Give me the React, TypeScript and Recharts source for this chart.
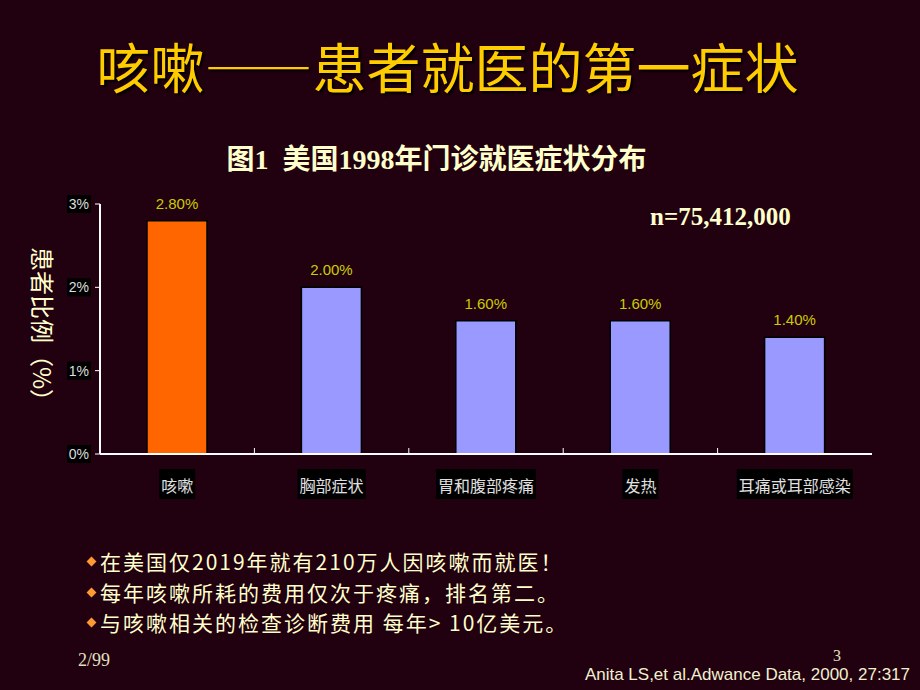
import { BarChart, Bar, XAxis, YAxis, Cell, LabelList } from 'recharts';

const categories = ['咳嗽', '胸部症状', '胃和腹部疼痛', '发热', '耳痛或耳部感染'];
const values = [2.8, 2.0, 1.6, 1.6, 1.4];
const barColors = ['#FF6600', '#9999FF', '#9999FF', '#9999FF', '#9999FF'];
const yTicks = [0, 1, 2, 3];
const bullets = [
  '在美国仅2019年就有210万人因咳嗽而就医！',
  '每年咳嗽所耗的费用仅次于疼痛，排名第二。',
  '与咳嗽相关的检查诊断费用 每年> 10亿美元。',
];

const W = 920;
const H = 690;
const Y_AXIS_W = 40;
const margin = { top: 204, right: 48, left: 100 - Y_AXIS_W, bottom: 186 };
const BG = '#21000f';
const CJK = '"Noto Sans CJK SC", "Noto Sans", sans-serif';

const data = categories.map((name, i) => ({ name, value: values[i], color: barColors[i] }));

// half of one category band, used for the boundary tick marks
const halfBand = (W - 100 - margin.right) / categories.length / 2;

const YTick = (props: any) => {
  const { x, y, payload } = props;
  const label = `${payload.value}%`;
  return (
    <g>
      <rect x={x - 22} y={y - 9} width={24} height={18} fill="#000" />
      <text x={x} y={y} textAnchor="end" dominantBaseline="central" fill="#dddddd"
        fontSize={14} fontFamily="Liberation Sans, Arial, sans-serif">
        {label}
      </text>
    </g>
  );
};

const XTick = (props: any) => {
  const { x, y, payload, index } = props;
  const text = String(payload.value);
  const w = text.length * 16 + 4;
  return (
    <g>
      {index < categories.length - 1 && (
        <line x1={x + halfBand} x2={x + halfBand} y1={y} y2={y - 6} stroke="#fff" strokeWidth={1} />
      )}
      <rect x={x - w / 2} y={y + 15} width={w} height={30} fill="#000" />
      <text x={x} y={y + 31} textAnchor="middle" dominantBaseline="central" fill="#e0e0e0"
        fontSize={16} fontFamily={CJK}>
        {text}
      </text>
    </g>
  );
};

export default function App() {
  return (
    <div style={{ position: 'relative', width: W, height: H, background: BG, overflow: 'hidden' }}>
      <style>{'body{margin:0}'}</style>

      <div lang="zh-CN" style={{
        position: 'absolute', left: 0, width: 895, top: 39, textAlign: 'center',
        fontSize: 54, lineHeight: '54px', color: '#FFCC00', fontFamily: CJK,
        textShadow: '2px 2px 2px #000', whiteSpace: 'nowrap',
      }}>
        咳嗽——患者就医的第一症状
      </div>

      <div style={{
        position: 'absolute', left: 0, width: 873, top: 145, textAlign: 'center',
        fontSize: 28, lineHeight: '30px', color: '#FFFFCC', fontWeight: 'bold',
        fontFamily: '"Liberation Serif", "Noto Sans CJK SC", serif', whiteSpace: 'pre',
      }}>
        {'图1  美国1998年门诊就医症状分布'}
      </div>

      <div style={{
        position: 'absolute', left: 650, top: 204, fontSize: 25, lineHeight: '26px',
        color: '#FFFFCC', fontWeight: 'bold', fontFamily: '"Liberation Serif", serif',
      }}>
        n=75,412,000
      </div>

      <div style={{
        position: 'absolute', left: 43, top: 330, transform: 'translate(-50%, -50%) rotate(90deg)',
        fontSize: 24, lineHeight: '24px', color: '#FFFFCC', fontFamily: CJK, whiteSpace: 'nowrap',
      }}>
        患者比例（%）
      </div>

      <div style={{ position: 'absolute', left: 0, top: 0 }}>
        <BarChart width={W} height={H} data={data} margin={margin}>
          <YAxis
            width={Y_AXIS_W}
            domain={[0, 3]}
            ticks={yTicks}
            axisLine={{ stroke: '#fff', strokeWidth: 2 }}
            tickLine={{ stroke: '#fff', strokeWidth: 1 }}
            tickSize={5}
            tickMargin={6}
            tick={<YTick />}
          />
          <XAxis
            dataKey="name"
            height={50}
            axisLine={{ stroke: '#fff', strokeWidth: 2 }}
            tickLine={false}
            tickSize={0}
            tickMargin={0}
            interval={0}
            tick={<XTick />}
          />
          <Bar dataKey="value" barSize={60} stroke="#000" strokeWidth={1.5} isAnimationActive={false}>
            {data.map((d, i) => (
              <Cell key={i} fill={d.color} />
            ))}
            <LabelList
              dataKey="value"
              position="top"
              offset={12}
              fill="#CCCC00"
              fontSize={15}
              fontFamily="Liberation Sans, Arial, sans-serif"
              formatter={(v: any) => `${Number(v).toFixed(2)}%`}
            />
          </Bar>
        </BarChart>
      </div>

      {bullets.map((b, i) => (
        <div key={i} style={{
          position: 'absolute', left: 86, top: 551 + i * 30.5, fontSize: 21, lineHeight: '21px',
          height: 21, letterSpacing: 2, color: '#FFFFCC', fontFamily: CJK, whiteSpace: 'pre',
          display: 'flex', alignItems: 'center',
        }}>
          <span style={{
            display: 'inline-block', width: 7, height: 7, background: '#FF9933',
            transform: 'rotate(45deg)', marginRight: 5, marginLeft: 2,
          }} />
          {b}
        </div>
      ))}

      <div style={{
        position: 'absolute', left: 78, top: 651, fontSize: 18, lineHeight: '18px',
        color: '#E0E0C0', fontFamily: '"Liberation Serif", serif',
      }}>
        2/99
      </div>
      <div style={{
        position: 'absolute', left: 833, top: 648, fontSize: 16, lineHeight: '16px',
        color: '#E0E0C0', fontFamily: '"Liberation Serif", serif',
      }}>
        3
      </div>
      <div style={{
        position: 'absolute', right: 10, top: 666, fontSize: 17, lineHeight: '18px',
        color: '#F0F0D0', fontFamily: '"Liberation Sans", Arial, sans-serif', whiteSpace: 'nowrap',
      }}>
        Anita LS,et al.Adwance Data, 2000, 27:317
      </div>
    </div>
  );
}
